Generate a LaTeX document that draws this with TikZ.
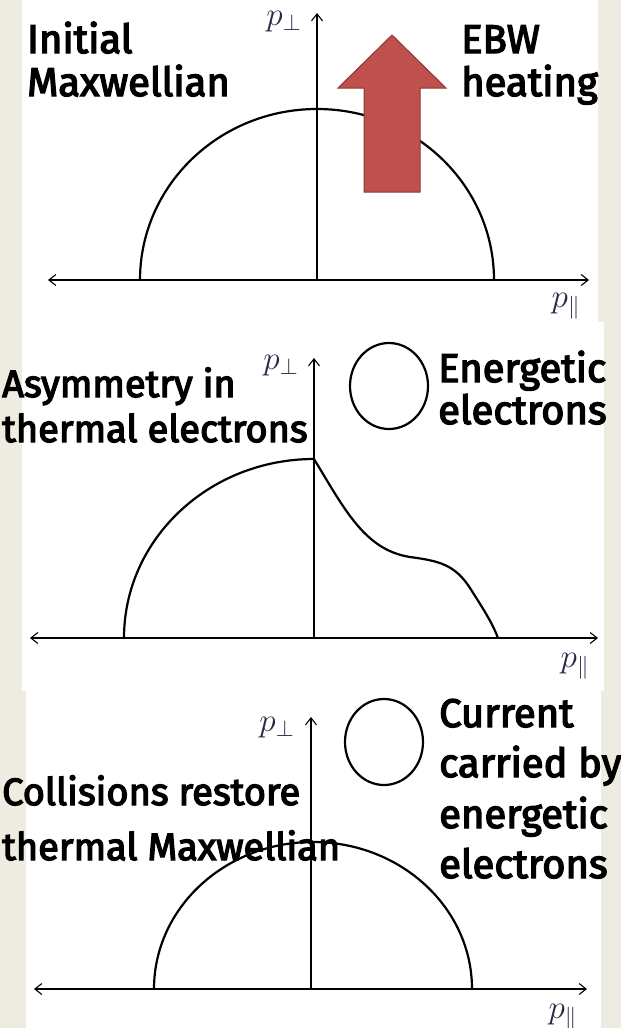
\documentclass[tikz,border=0pt]{standalone}
\usepackage{amsmath}
\usepackage{fontspec}
\setmainfont{Fira Sans}[BoldFont=Fira Sans, BoldFeatures={FakeBold=3.5}]
\usetikzlibrary{arrows.meta}

\definecolor{slidebg}{HTML}{EEEBE0}
\definecolor{heatred}{HTML}{C0504D}
\definecolor{heatedge}{HTML}{8C3836}
\definecolor{plabcol}{HTML}{2A2A48}
\newcommand{\plabel}[1]{\scalebox{1.6}{$#1$}}

\begin{document}
\begin{tikzpicture}[x=1pt, y=-1pt,
  axis/.style={line width=1.1pt},
  tip/.style={-{Straight Barb[length=7pt,width=11pt]}},
  curve/.style={line width=2.2pt},
  lbl/.style={font=\fontsize{40}{43}\selectfont\bfseries, inner sep=0pt, anchor=base west},
  lblsm/.style={lbl, font=\fontsize{38}{43}\selectfont\bfseries},
  plab/.style={font=\fontsize{20.74}{24}\selectfont, text=plabcol, inner sep=0pt}]
  \useasboundingbox (0,0) rectangle (621,1028);
  \fill[slidebg] (0,0) rectangle (621,1028);

  % 三个白色面板
  \fill[white] (22,0) rectangle (598,322);
  \fill[white] (22,322) rectangle (604,691);
  \fill[white] (26,691) rectangle (601,1028);

  % ---------- 第一幅: 初始麦克斯韦分布 ----------
  \coordinate (o1) at (317,280);
  \coordinate (l1) at (48,280);
  \coordinate (r1) at (589,280);
  \coordinate (t1) at (317,13);
  \draw[axis, tip] (o1) -- (l1);
  \draw[axis, tip] (o1) -- (r1);
  \draw[axis, tip] (o1) -- (t1);
  \node[plab] (pperp1) at (284,22) {\plabel{p_\perp}};
  \node[plab] (ppar1) at (566,306) {\plabel{p_\parallel}};
  \draw[curve] (140,280) arc[start angle=180, end angle=360, x radius=177, y radius=171];

  \node[lbl] (init1) at (27,53) {Initial};
  \node[lbl] (init2) at (27,96) {Maxwellian};
  \node[lbl] (ebw1) at (461,53) {EBW};
  \node[lbl] (ebw2) at (461,96) {heating};

  % 加热箭头
  \filldraw[fill=heatred, draw=heatedge, line width=1pt]
    (364,192) -- (364,88) -- (338,88) -- (392,35) -- (446,88) -- (420,88) -- (420,192) -- cycle;

  % ---------- 第二幅: 不对称 ----------
  \coordinate (o2) at (314,638);
  \coordinate (l2) at (30,638);
  \coordinate (r2) at (598,638);
  \coordinate (t2) at (314,358);
  \draw[axis, tip] (o2) -- (l2);
  \draw[axis, tip] (o2) -- (r2);
  \draw[axis, tip] (o2) -- (t2);
  \node[plab] (pperp2) at (281,366) {\plabel{p_\perp}};
  \node[plab] (ppar2) at (575,666) {\plabel{p_\parallel}};
  \draw[curve] (124,638) arc[start angle=180, end angle=270, x radius=190, y radius=179]
    .. controls (345,510) and (365,550) .. (410,557)
    .. controls (440,561) and (455,565) .. (470,588)
    .. controls (482,607) and (492,622) .. (498,638);
  \draw[curve] (389,386) ellipse[x radius=39, y radius=43];

  \node[lblsm] (asym1) at (2,397) {Asymmetry in};
  \node[lblsm] (asym2) at (2,442) {thermal electrons};
  \node[lbl] (ener1) at (438,382) {Energetic};
  \node[lbl] (ener2) at (438,424) {electrons};

  % ---------- 第三幅: 碰撞恢复 ----------
  \coordinate (o3) at (311,989);
  \coordinate (l3) at (34,989);
  \coordinate (r3) at (587,989);
  \coordinate (t3) at (311,717);
  \draw[axis, tip] (o3) -- (l3);
  \draw[axis, tip] (o3) -- (r3);
  \draw[axis, tip] (o3) -- (t3);
  \node[plab] (pperp3) at (277,728) {\plabel{p_\perp}};
  \node[plab] (ppar3) at (563,1017) {\plabel{p_\parallel}};
  \draw[curve] (384,742) ellipse[x radius=39, y radius=43];

  \node[lblsm] (coll1) at (2,805) {Collisions restore};
  \node[lblsm] (coll2) at (2,860) {thermal Maxwellian};
  \node[lbl] (curr1) at (439,727) {Current};
  \node[lbl] (curr2) at (439,777) {carried by};
  \node[lbl] (curr3) at (439,828) {energetic};
  \node[lbl] (curr4) at (439,878) {electrons};

  % 曲线压在文字上
  \draw[curve] (154,989) arc[start angle=180, end angle=360, x radius=159, y radius=147];
\end{tikzpicture}
\end{document}
